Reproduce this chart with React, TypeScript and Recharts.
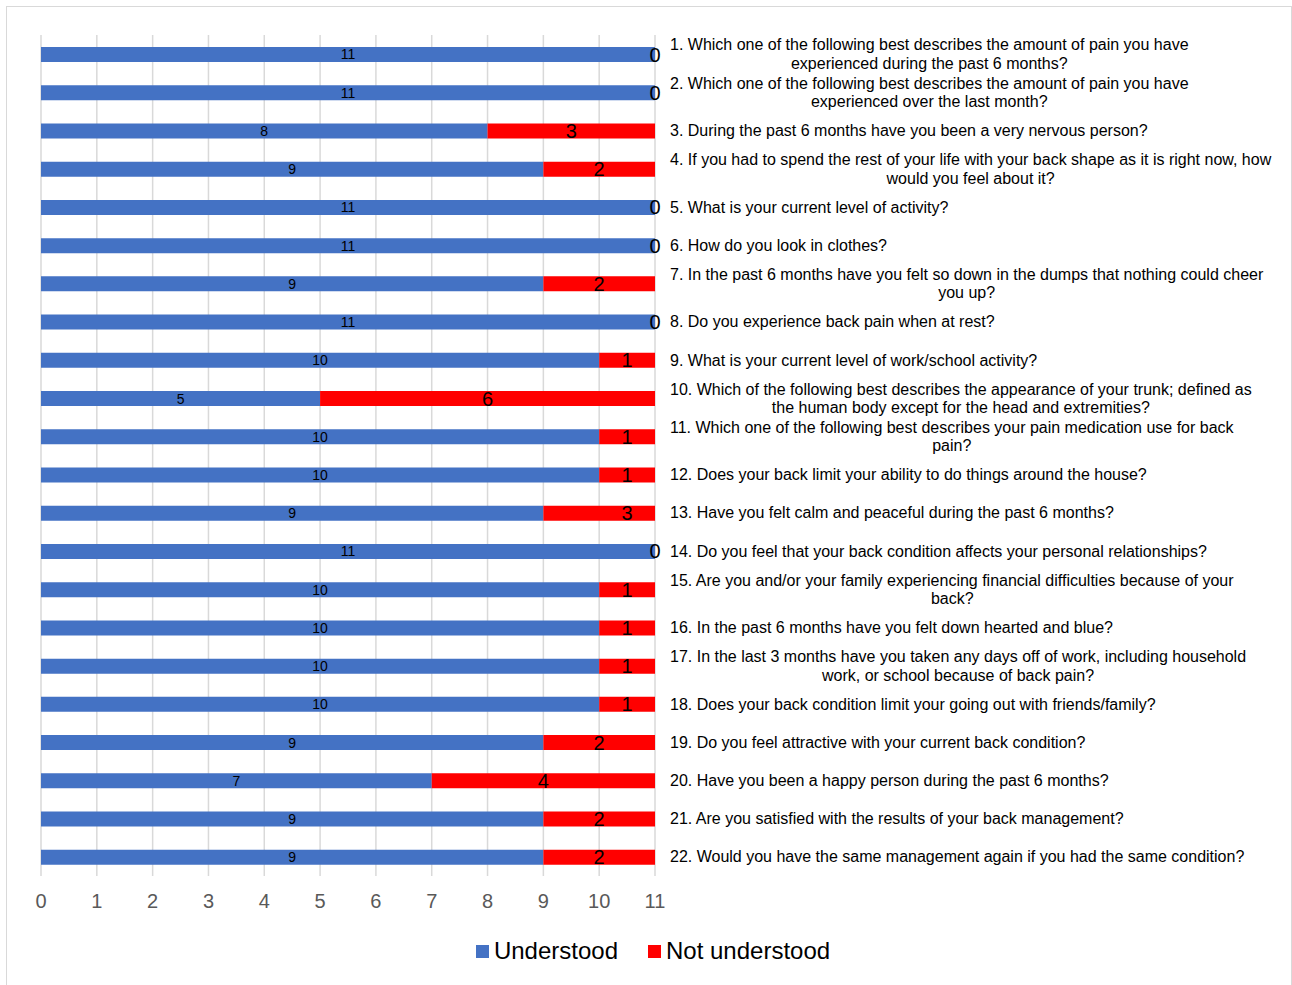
import { BarChart, Bar, XAxis, YAxis, CartesianGrid, LabelList } from 'recharts';

const QUESTIONS = [
  '1. Which one of the following best describes the amount of pain you have\nexperienced during the past 6 months?',
  '2. Which one of the following best describes the amount of pain you have\nexperienced over the last month?',
  '3. During the past 6 months have you been a very nervous person?',
  '4. If you had to spend the rest of your life with your back shape as it is right now, how\nwould you feel about it?',
  '5. What is your current level of activity?',
  '6. How do you look in clothes?',
  '7. In the past 6 months have you felt so down in the dumps that nothing could cheer\nyou up?',
  '8. Do you experience back pain when at rest?',
  '9. What is your current level of work/school activity?',
  '10. Which of the following best describes the appearance of your trunk; defined as\nthe human body except for the head and extremities?',
  '11. Which one of the following best describes your pain medication use for back\npain?',
  '12. Does your back limit your ability to do things around the house?',
  '13. Have you felt calm and peaceful during the past 6 months?',
  '14. Do you feel that your back condition affects your personal relationships?',
  '15. Are you and/or your family experiencing financial difficulties because of your\nback?',
  '16. In the past 6 months have you felt down hearted and blue?',
  '17. In the last 3 months have you taken any days off of work, including household\nwork, or school because of back pain?',
  '18. Does your back condition limit your going out with friends/family?',
  '19. Do you feel attractive with your current back condition?',
  '20. Have you been a happy person during the past 6 months?',
  '21. Are you satisfied with the results of your back management?',
  '22. Would you have the same management again if you had the same condition?',
];

const UNDERSTOOD = [11, 11, 8, 9, 11, 11, 9, 11, 10, 5, 10, 10, 9, 11, 10, 10, 10, 10, 9, 7, 9, 9];
const NOT_UNDERSTOOD = [0, 0, 3, 2, 0, 0, 2, 0, 1, 6, 1, 1, 3, 0, 1, 1, 1, 1, 2, 4, 2, 2];
const X_TICKS = [0, 1, 2, 3, 4, 5, 6, 7, 8, 9, 10, 11];
const X_MAX = 11;

const BLUE = '#4472C4';
const RED = '#FF0000';
const FONT = '"Liberation Sans", Arial, sans-serif';

const data = QUESTIONS.map((q, i) => ({
  q,
  understood: UNDERSTOOD[i],
  notUnderstood: NOT_UNDERSTOOD[i],
}));

let ctx: CanvasRenderingContext2D | null = null;
function measure(s: string, size: number) {
  if (!ctx) ctx = document.createElement('canvas').getContext('2d');
  if (!ctx) return s.length * size * 0.48;
  ctx.font = `${size}px ${FONT}`;
  return ctx.measureText(s).width;
}

function QuestionTick(props: any) {
  const { x, y, payload } = props;
  const lines = String(payload.value).split('\n');
  const left = x + 7;
  const w = measure(lines[0], 16);
  const lh = 18.5;
  const top = y - ((lines.length - 1) * lh) / 2;
  return (
    <g>
      {lines.map((ln, i) => (
        <text
          key={i}
          x={i === 0 ? left : left + w / 2}
          y={top + i * lh}
          dy="0.35em"
          textAnchor={i === 0 ? 'start' : 'middle'}
          fontSize={16}
          fontFamily={FONT}
          fill="#000"
        >
          {ln}
        </text>
      ))}
    </g>
  );
}

// the 9+3 row runs past the axis end and its bar gets cut at 11; the label
// stays at the centre of the full (uncut) segment, like in the original
function RedLabel(props: any) {
  const { x, y, width, height, value } = props;
  const [u, r] = String(value).split('|').map(Number);
  if (!r) return null;
  const shown = Math.min(r, X_MAX - u);
  const cx = shown > 0 ? x + ((width / shown) * r) / 2 : x + width / 2;
  return (
    <text x={cx} y={y + height / 2} dy="0.35em" textAnchor="middle" fontSize={20} fontFamily={FONT} fill="#000">
      {r}
    </text>
  );
}

// zero-width red segments are not drawn, so their "0" hangs off the blue bar's end
function ZeroLabel(props: any) {
  const { x, y, width, height, value } = props;
  if (value !== 0) return null;
  return (
    <text x={x + width} y={y + height / 2} dy="0.35em" textAnchor="middle" fontSize={20} fontFamily={FONT} fill="#000">
      0
    </text>
  );
}

export default function App() {
  return (
    <div style={{ position: 'absolute', left: 0, top: 0, width: 1292, height: 985, background: '#fff', fontFamily: FONT }}>
      <div style={{ position: 'absolute', left: 6, top: 6, width: 1286, height: 990, border: '1.5px solid #d9d9d9', boxSizing: 'border-box' }} />
      <div style={{ position: 'absolute', left: 0, top: 0 }}>
        <BarChart
          width={1292}
          height={985}
          data={data}
          layout="vertical"
          margin={{ top: 35, right: 7, bottom: 59, left: 41 }}
          barSize={15}
        >
          <CartesianGrid horizontal={false} stroke="#d9d9d9" strokeWidth={1.5} />
          <XAxis
            type="number"
            domain={[0, X_MAX]}
            ticks={X_TICKS}
            allowDataOverflow
            axisLine={false}
            tickLine={false}
            tickMargin={12}
            height={50}
            tick={{ fontSize: 20, fill: '#595959', fontFamily: FONT }}
          />
          <YAxis
            type="category"
            dataKey="q"
            orientation="right"
            width={630}
            interval={0}
            axisLine={false}
            tickLine={false}
            tick={<QuestionTick />}
          />
          <Bar dataKey="understood" stackId="a" fill={BLUE} isAnimationActive={false}>
            <LabelList dataKey="understood" position="center" fontSize={14} fill="#000" fontFamily={FONT} />
            <LabelList dataKey="notUnderstood" content={<ZeroLabel />} />
          </Bar>
          <Bar dataKey="notUnderstood" stackId="a" fill={RED} isAnimationActive={false}>
            <LabelList
              dataKey={(d: any) => `${d.understood}|${d.notUnderstood}`}
              content={<RedLabel />}
            />
          </Bar>
        </BarChart>
      </div>
      <div
        style={{
          position: 'absolute',
          top: 937,
          left: 0,
          width: 1292,
          display: 'flex',
          justifyContent: 'center',
          alignItems: 'center',
          fontSize: 24,
          color: '#000',
          paddingLeft: 14,
          boxSizing: 'border-box',
        }}
      >
        <span style={{ display: 'inline-block', width: 13, height: 13, background: BLUE, marginRight: 5 }} />
        <span style={{ marginRight: 30 }}>Understood</span>
        <span style={{ display: 'inline-block', width: 13, height: 13, background: RED, marginRight: 5 }} />
        <span>Not understood</span>
      </div>
    </div>
  );
}
